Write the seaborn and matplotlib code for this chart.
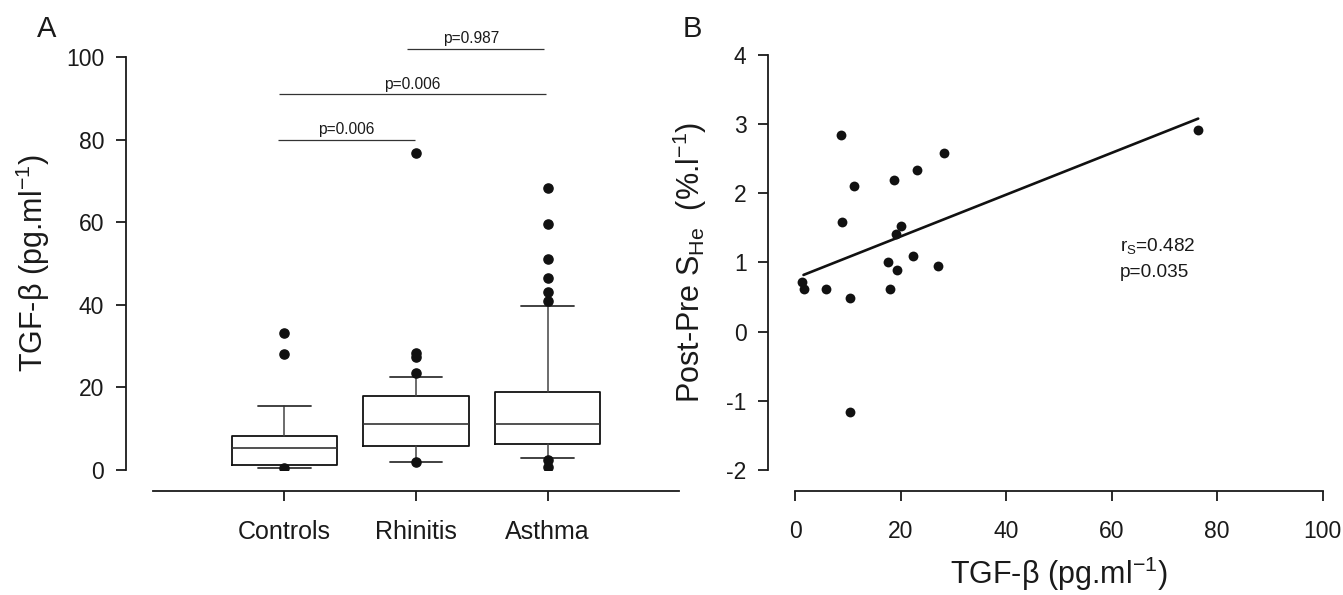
import matplotlib
matplotlib.use("Agg")
import matplotlib.pyplot as plt
import seaborn as sns
import numpy as np

# ---------------- data ----------------
groups = ["Controls", "Rhinitis", "Asthma"]
box_q1 = [1.2, 5.9, 6.2]
box_med = [5.4, 11.2, 11.2]
box_q3 = [8.3, 18.0, 18.8]
whisk_lo = [0.4, 2.0, 3.0]
whisk_hi = [15.6, 22.4, 39.7]
fliers_controls = [33.1, 28.2, 0.4]
fliers_rhinitis = [76.7, 28.3, 27.4, 23.4, 2.0]
fliers_asthma = [68.4, 59.5, 51.1, 46.6, 43.2, 40.9, 2.4, 0.8]

brk_x0 = [-0.05, -0.04, 0.93]
brk_x1 = [0.99, 1.99, 1.97]
brk_y = [80, 91, 102]
brk_text_x = [0.47, 0.97, 1.42]
brk_labels = ["p=0.006", "p=0.006", "p=0.987"]

tgf = [8.73, 28.14, 23.09, 18.84, 11.20, 8.98, 20.15, 19.17, 22.33, 17.59,
       19.30, 27.13, 1.39, 1.71, 5.83, 10.44, 18.03, 10.44, 76.41]
dshe = [2.845, 2.58, 2.33, 2.19, 2.10, 1.58, 1.53, 1.41, 1.10, 1.00,
        0.89, 0.95, 0.72, 0.61, 0.62, 0.48, 0.61, -1.16, 2.92]
fit_x = [1.6, 76.4]
fit_y = [0.82, 3.08]
stat_labels = ["r$_\\mathregular{S}$=0.482", "p=0.035"]

# ---------------- style ----------------
sns.set_style("ticks")
plt.rcParams["font.family"] = ["Liberation Sans", "DejaVu Sans"]
plt.rcParams["mathtext.fontset"] = "custom"
plt.rcParams["mathtext.rm"] = "Liberation Sans"
plt.rcParams["mathtext.it"] = "Liberation Sans:italic"
plt.rcParams["mathtext.bf"] = "Liberation Sans:bold"
plt.rcParams["axes.unicode_minus"] = False
txt = "#1a1a1a"

fig = plt.figure(figsize=(13.43, 5.95), dpi=100)
ax1 = fig.add_axes([0.1137, 0.2101, 0.3921, 0.6941])
ax2 = fig.add_axes([0.5920, 0.2101, 0.3929, 0.6975])

def style_axes(ax):
    for s in ["top", "right"]:
        ax.spines[s].set_visible(False)
    ax.spines["left"].set_position(("outward", 19.2))
    ax.spines["bottom"].set_position(("outward", 15.1))
    for s in ["left", "bottom"]:
        ax.spines[s].set_linewidth(1.3)
        ax.spines[s].set_color("#1a1a1a")
    ax.tick_params(direction="out", length=7.2, width=1.3, color="#1a1a1a",
                   labelcolor=txt)
    ax.tick_params(axis="y", pad=8.5, labelsize=16.5)
    ax.tick_params(axis="x", pad=14, labelsize=16.5)
    ax.set_facecolor("white")

# ---------------- panel A: boxplots ----------------
fliers = [fliers_controls, fliers_rhinitis, fliers_asthma]
stats = []
for i in range(len(groups)):
    stats.append(dict(label=groups[i], q1=box_q1[i], med=box_med[i], q3=box_q3[i],
                      whislo=whisk_lo[i], whishi=whisk_hi[i], fliers=fliers[i]))
ax1.bxp(stats, positions=[0, 1, 2], widths=0.8, manage_ticks=False,
        boxprops=dict(color="#111111", linewidth=1.3),
        medianprops=dict(color="#333333", linewidth=1.2),
        whiskerprops=dict(color="#444444", linewidth=1.1),
        capprops=dict(color="#333333", linewidth=1.3),
        flierprops=dict(marker="o", markerfacecolor="#111111",
                        markeredgecolor="#111111", markersize=6.6))
style_axes(ax1)
ax1.set_xlim(-1, 3)
ax1.set_ylim(0, 100)
ax1.set_xticks([0, 1, 2])
ax1.set_xticklabels(groups, fontsize=18)
ax1.set_yticks(np.arange(0, 101, 20))
ax1.set_ylabel("TGF-β (pg.ml$^{\\mathregular{-1}}$)", fontsize=22, color=txt)
ax1.yaxis.set_label_coords(-0.192, 0.5)

for x0, x1, y, tx, lab in zip(brk_x0, brk_x1, brk_y, brk_text_x, brk_labels):
    ax1.hlines(y, x0, x1, color="#333333", linewidth=0.9, clip_on=False)
    ax1.text(tx, y + 0.6, lab, ha="center", va="bottom", fontsize=11.2,
             color=txt, clip_on=False)

# ---------------- panel B: scatter ----------------
sns.scatterplot(x=tgf, y=dshe, color="#111111", s=50, linewidth=0, ax=ax2,
                zorder=3)
sns.lineplot(x=fit_x, y=fit_y, color="#111111", linewidth=1.9, ax=ax2)
style_axes(ax2)
ax2.set_xlim(0, 100)
ax2.set_ylim(-2, 4)
ax2.set_xticks(np.arange(0, 101, 20))
ax2.set_yticks(np.arange(-2, 5, 1))
ax2.set_xlabel("TGF-β (pg.ml$^{\\mathregular{-1}}$)", fontsize=22, color=txt)
ax2.xaxis.set_label_coords(0.5, -0.205)
ax2.set_ylabel("Post-Pre S$_{\\mathregular{He}}$  (%.l$^{\\mathregular{-1}}$)",
               fontsize=22, color=txt)
ax2.yaxis.set_label_coords(-0.163, 0.5)
ax2.text(61.5, 1.24, stat_labels[0], ha="left", va="center", fontsize=13.7,
         color=txt)
ax2.text(61.5, 0.86, stat_labels[1], ha="left", va="center", fontsize=13.7,
         color=txt)

# panel letters
fig.text(37 / 1343, 1 - 37 / 595, "A", fontsize=21, color=txt, va="baseline")
fig.text(683 / 1343, 1 - 37 / 595, "B", fontsize=21, color=txt, va="baseline")

fig.savefig("out.png", dpi=100, facecolor="white")
